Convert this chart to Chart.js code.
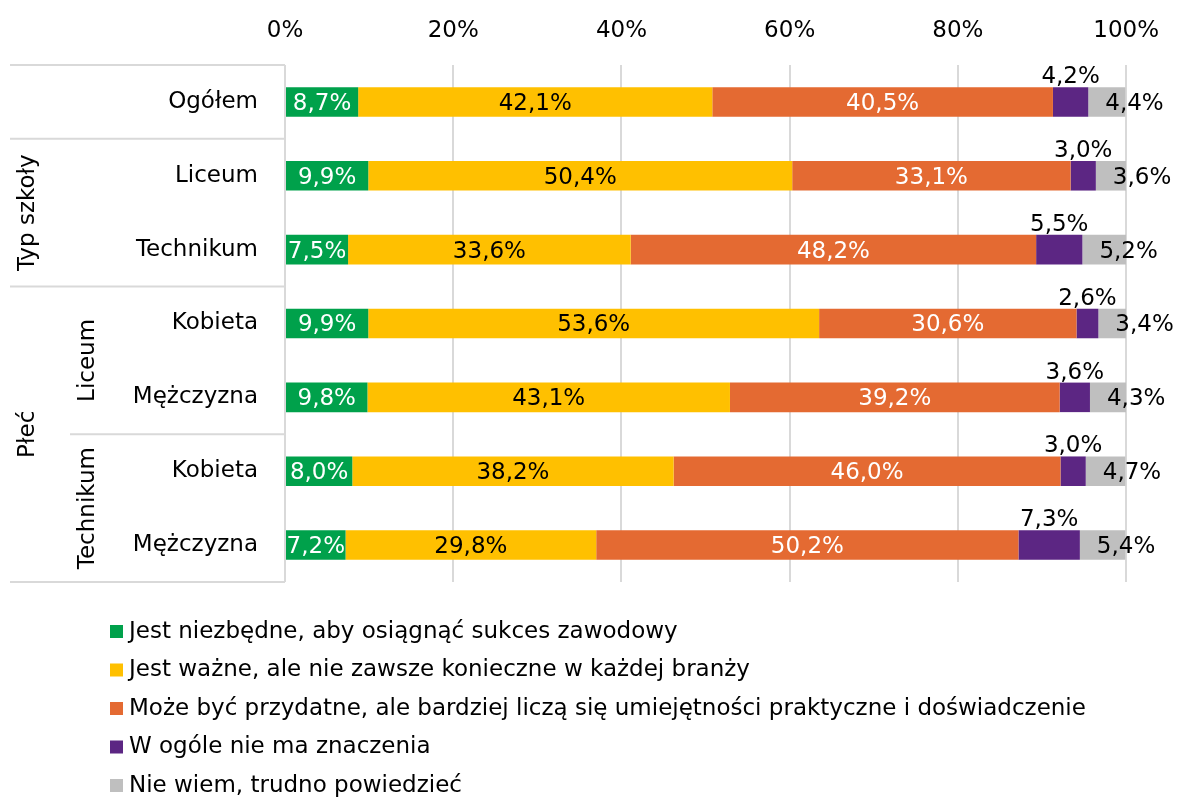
<!DOCTYPE html>
<html lang="pl">
<head>
<meta charset="utf-8">
<script src="https://cdn.jsdelivr.net/npm/chart.js@4/dist/chart.umd.min.js"></script>
<style>
  html, body { margin: 0; padding: 0; background: #fff; }
  #wrap { width: 1179px; height: 800px; position: relative; }
</style>
</head>
<body>
<div id="wrap"><canvas id="chart"></canvas></div>
<script>
// row labels (inner level) and the grouping around them
const rows = ['Ogółem', 'Liceum', 'Technikum', 'Kobieta', 'Mężczyzna', 'Kobieta', 'Mężczyzna'];
const groups = [
    { label: 'Typ szkoły', from: 1, to: 2, level: 0 },
    { label: 'Płeć', from: 3, to: 6, level: 0 },
    { label: 'Liceum', from: 3, to: 4, level: 1 },
    { label: 'Technikum', from: 5, to: 6, level: 1 },
];

const answers = [
    'Jest niezbędne, aby osiągnąć sukces zawodowy',
    'Jest ważne, ale nie zawsze konieczne w każdej branży',
    'Może być przydatne, ale bardziej liczą się umiejętności praktyczne i doświadczenie',
    'W ogóle nie ma znaczenia',
    'Nie wiem, trudno powiedzieć',
];

const needed    = [8.7, 9.9, 7.5, 9.9, 9.8, 8.0, 7.2];
const important = [42.1, 50.4, 33.6, 53.6, 43.1, 38.2, 29.8];
const useful    = [40.5, 33.1, 48.2, 30.6, 39.2, 46.0, 50.2];
const noMatter  = [4.2, 3.0, 5.5, 2.6, 3.6, 3.0, 7.3];
const dontKnow  = [4.4, 3.6, 5.2, 3.4, 4.3, 4.7, 5.4];

const colors = ['#00A14B', '#FFC000', '#E46A32', '#5C2683', '#BFBFBF'];
const labelColors = ['#fff', '#000', '#fff', '#000', '#000'];

const FONT = 'DejaVu Sans, Verdana, sans-serif';
const FS = 23;
const LINE = '#D9D9D9';

const fmt = v => v.toFixed(1).replace('.', ',') + '%';

// segment labels: inside for the first three, above the bar for the 4th,
// shifted right past the bar end for the last one
const segmentLabels = {
    id: 'segmentLabels',
    afterDatasetsDraw(chart) {
        const ctx = chart.ctx;
        ctx.save();
        ctx.font = `${FS}px ${FONT}`;
        chart.data.datasets.forEach((ds, di) => {
            const meta = chart.getDatasetMeta(di);
            meta.data.forEach((bar, i) => {
                const v = ds.data[i];
                const left = Math.min(bar.x, bar.base);
                const right = Math.max(bar.x, bar.base);
                const half = bar.height / 2;
                ctx.fillStyle = labelColors[di];
                if (di === 3) {
                    ctx.textAlign = 'center';
                    ctx.textBaseline = 'alphabetic';
                    ctx.fillText(fmt(v), (left + right) / 2, bar.y - half - 4);
                } else if (di === 4) {
                    ctx.textAlign = 'left';
                    ctx.textBaseline = 'middle';
                    ctx.fillText(fmt(v), left + 17, bar.y + 2);
                } else {
                    ctx.textAlign = 'center';
                    ctx.textBaseline = 'middle';
                    ctx.fillText(fmt(v), (left + right) / 2, bar.y + 2);
                }
            });
        });
        ctx.restore();
    },
};

// table lines and rotated group titles on the left
const categoryTable = {
    id: 'categoryTable',
    afterDraw(chart) {
        const ctx = chart.ctx;
        const area = chart.chartArea;
        const band = (area.bottom - area.top) / rows.length;
        const edge = k => area.top + band * k;
        const x0 = 10, x1 = 70, xr = area.left;
        ctx.save();
        ctx.strokeStyle = LINE;
        ctx.lineWidth = 2;
        const hline = (yy, from) => {
            ctx.beginPath();
            ctx.moveTo(from, yy);
            ctx.lineTo(xr, yy);
            ctx.stroke();
        };
        hline(edge(0), x0);
        hline(edge(1), x0);
        hline(edge(3), x0);
        hline(edge(5), x1);
        hline(edge(7), x0);

        ctx.fillStyle = '#000';
        ctx.font = `${FS}px ${FONT}`;
        ctx.textAlign = 'center';
        ctx.textBaseline = 'middle';
        groups.forEach(g => {
            const cy = (edge(g.from) + edge(g.to + 1)) / 2;
            const cx = g.level === 0 ? 28 : 88;
            ctx.save();
            ctx.translate(cx, cy);
            ctx.rotate(-Math.PI / 2);
            ctx.fillText(g.label, 0, 0);
            ctx.restore();
        });
        ctx.restore();
    },
};

// legend as a single column under the plot
const columnLegend = {
    id: 'columnLegend',
    afterDraw(chart) {
        const ctx = chart.ctx;
        ctx.save();
        ctx.font = `${FS}px ${FONT}`;
        ctx.textAlign = 'left';
        ctx.textBaseline = 'middle';
        answers.forEach((name, i) => {
            const yy = 632 + i * 38.5;
            ctx.fillStyle = colors[i];
            ctx.fillRect(110, yy - 7, 13, 13);
            ctx.fillStyle = '#000';
            ctx.fillText(name, 129, yy);
        });
        ctx.restore();
    },
};

const series = [needed, important, useful, noMatter, dontKnow];

new Chart(document.getElementById('chart'), {
    type: 'bar',
    data: {
        labels: rows,
        datasets: series.map((values, i) => ({
            label: answers[i],
            data: values,
            backgroundColor: colors[i],
            borderWidth: 0,
            barPercentage: 0.4,
            categoryPercentage: 1,
        })),
    },
    options: {
        indexAxis: 'y',
        responsive: true,
        maintainAspectRatio: false,
        animation: false,
        layout: { padding: { top: 0, right: 52, bottom: 218, left: 0 } },
        plugins: {
            legend: { display: false },
            tooltip: { enabled: false },
        },
        scales: {
            x: {
                position: 'top',
                stacked: true,
                min: 0,
                max: 100,
                ticks: {
                    stepSize: 20,
                    padding: 20,
                    color: '#000',
                    font: { family: FONT, size: FS },
                    callback: v => v + '%',
                },
                grid: { color: LINE, lineWidth: 2, drawTicks: false },
                border: { display: false },
                afterFit: s => { s.height = 65; },
            },
            y: {
                stacked: true,
                ticks: {
                    padding: 27,
                    color: '#000',
                    font: { family: FONT, size: FS },
                },
                grid: { display: false, drawTicks: false },
                border: { display: false },
                afterFit: s => { s.width = 285; },
            },
        },
    },
    plugins: [segmentLabels, categoryTable, columnLegend],
});
</script>
</body>
</html>
